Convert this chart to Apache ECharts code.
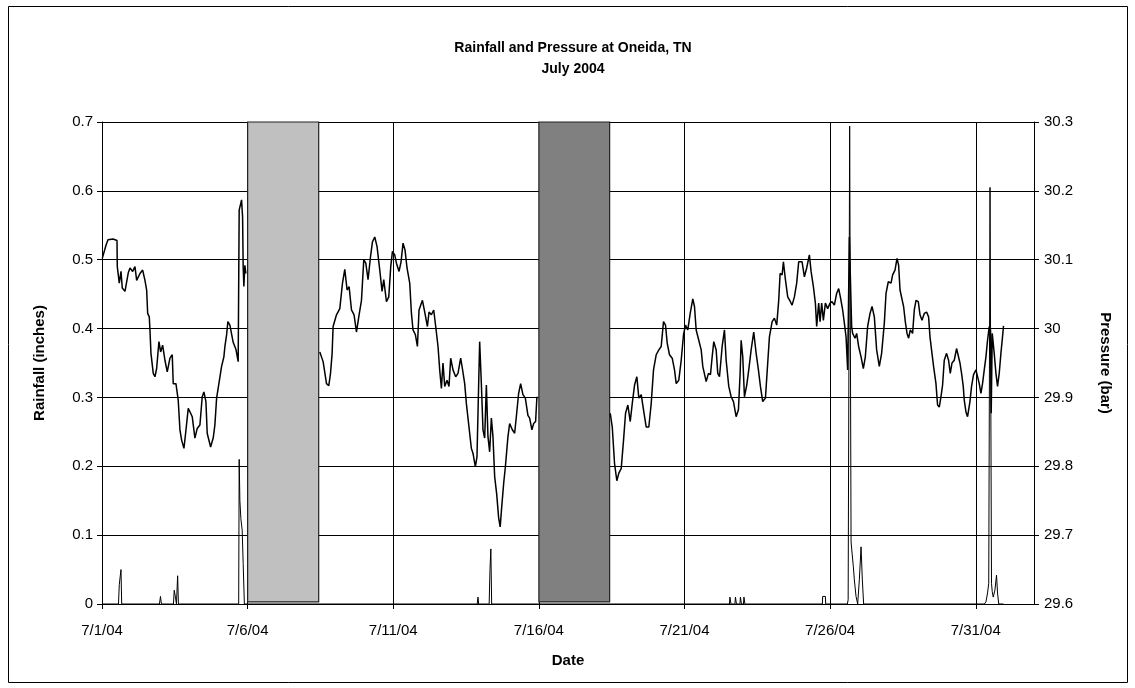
<!DOCTYPE html>
<html>
<head>
<meta charset="utf-8">
<title>Rainfall and Pressure at Oneida, TN</title>
<script src="https://cdn.jsdelivr.net/npm/echarts@6/dist/echarts.min.js"></script>
<style>
  html, body { margin: 0; padding: 0; background: #fff; }
  #chart { width: 1135px; height: 688px; }
</style>
</head>
<body>
<div id="chart"></div>
<script>
// Time is counted in days from 7/1/04 00:00.
const dayTicks = [0, 5, 10, 15, 20, 25, 30];
const tickLabels = ['7/1/04', '7/6/04', '7/11/04', '7/16/04', '7/21/04', '7/26/04', '7/31/04'];

// Barometric pressure (bar); null marks a break in the record.
const pressureDays = [
  0.010, 0.137, 0.206, 0.377, 0.515, 0.525, 0.593, 0.652, 0.696, 0.789, 0.902, 0.961, 1.053, 1.132, 1.190,
  1.304, 1.396, 1.475, 1.533, 1.568, 1.623, 1.647, 1.681, 1.760, 1.818, 1.876, 1.955, 2.014, 2.082, 2.161,
  2.240, 2.333, 2.412, 2.446, 2.539, 2.617, 2.676, 2.734, 2.813, 2.871, 2.961, 3.043, 3.098, 3.190, 3.269,
  3.362, 3.441, 3.499, 3.568, 3.612, 3.729, 3.818, 3.876, 3.935, 4.024, 4.106, 4.185, 4.220, 4.278, 4.322,
  4.391, 4.504, 4.597, 4.676, 4.710, 4.792, 4.827, 4.847, 4.871, 4.906, 4.940,
  6.0,
  7.478, 7.592, 7.708, 7.787, 7.846, 7.901, 7.935, 8.051, 8.165, 8.257, 8.336, 8.415, 8.484, 8.566, 8.655,
  8.737, 8.827, 8.909, 8.988, 9.057, 9.135, 9.218, 9.286, 9.365, 9.444, 9.537, 9.616, 9.674, 9.767, 9.846,
  9.914, 9.972, 10.051, 10.110, 10.199, 10.268, 10.336, 10.405, 10.473, 10.566, 10.624, 10.679, 10.761, 10.830, 10.885,
  11.002, 11.081, 11.173, 11.228, 11.310, 11.389, 11.458, 11.537, 11.595, 11.653, 11.708, 11.767, 11.846, 11.914, 11.972,
  12.051, 12.144, 12.223, 12.315, 12.374, 12.453, 12.511, 12.600, 12.682, 12.737, 12.820, 12.875, 12.933, 12.967, 13.025,
  13.081, 13.139, 13.197, 13.252, 13.310, 13.369, 13.424, 13.482, 13.551, 13.619, 13.671, 13.722, 13.791, 13.849, 13.938,
  13.997, 14.089, 14.168, 14.226, 14.305, 14.374, 14.453, 14.535, 14.624, 14.683, 14.761, 14.820, 14.888, 14.933,
  16.0,
  17.451, 17.520, 17.598, 17.677, 17.746, 17.828, 17.907, 17.976, 18.055, 18.137, 18.206, 18.285, 18.364, 18.432, 18.514,
  18.593, 18.686, 18.775, 18.857, 18.936, 19.029, 19.118, 19.200, 19.279, 19.348, 19.406, 19.485, 19.578, 19.657, 19.715,
  19.804, 19.887, 19.966, 20.034, 20.113, 20.196, 20.285, 20.343, 20.401, 20.490, 20.573, 20.628, 20.744, 20.823, 20.892,
  20.950, 21.005, 21.087, 21.142, 21.201, 21.293, 21.372, 21.430, 21.520, 21.602, 21.681, 21.773, 21.852, 21.910, 21.945,
  22.000, 22.058, 22.137, 22.206, 22.288, 22.377, 22.460, 22.538, 22.607, 22.686, 22.779, 22.857, 22.916, 23.009, 23.087,
  23.166, 23.235, 23.283, 23.352, 23.396, 23.465, 23.544, 23.636, 23.694, 23.773, 23.852, 23.921, 24.037, 24.117, 24.195,
  24.288, 24.346, 24.425, 24.494, 24.538, 24.607, 24.655, 24.710, 24.768, 24.837, 24.916, 24.998, 25.067, 25.146, 25.224,
  25.293, 25.351, 25.430, 25.489, 25.547, 25.602, 25.660, 25.739, 25.773, 25.856, 25.911, 25.979, 26.062, 26.140, 26.209,
  26.288, 26.370, 26.439, 26.518, 26.597, 26.689, 26.768, 26.861, 26.919, 26.998, 27.091, 27.146, 27.228, 27.297, 27.352,
  27.400, 27.468, 27.523, 27.581, 27.640, 27.695, 27.753, 27.832, 27.890, 27.949, 28.027, 28.086, 28.154, 28.233, 28.312,
  28.381, 28.429, 28.497, 28.552, 28.634, 28.689, 28.748, 28.806, 28.861, 28.919, 28.998, 29.067, 29.125, 29.184, 29.262,
  29.341, 29.399, 29.458, 29.513, 29.571, 29.605, 29.664, 29.719, 29.801, 29.856, 29.924, 30.007, 30.062, 30.120, 30.178,
  30.233, 30.292, 30.350, 30.405, 30.463, 30.507, 30.531, 30.566, 30.634, 30.693, 30.748, 30.806, 30.864, 30.919, 30.953
];
const pressureBar = [
  30.102, 30.121, 30.129, 30.130, 30.128, 30.090, 30.066, 30.083, 30.059, 30.054, 30.081, 30.088, 30.083, 30.090, 30.070,
  30.080, 30.085, 30.070, 30.056, 30.022, 30.017, 29.998, 29.964, 29.935, 29.930, 29.942, 29.981, 29.966, 29.976, 29.954,
  29.937, 29.957, 29.962, 29.920, 29.920, 29.896, 29.853, 29.838, 29.826, 29.848, 29.884, 29.877, 29.872, 29.841, 29.855,
  29.860, 29.901, 29.908, 29.894, 29.848, 29.828, 29.841, 29.860, 29.899, 29.923, 29.945, 29.959, 29.974, 29.991, 30.010,
  30.005, 29.980, 29.970, 29.952, 30.172, 30.187, 30.162, 30.090, 30.061, 30.092, 30.080,
  null,
  29.966, 29.952, 29.920, 29.917, 29.935, 29.964, 30.003, 30.020, 30.029, 30.066, 30.086, 30.056, 30.061, 30.027, 30.020,
  29.995, 30.020, 30.041, 30.100, 30.095, 30.071, 30.104, 30.126, 30.133, 30.119, 30.085, 30.054, 30.071, 30.039, 30.046,
  30.090, 30.112, 30.107, 30.095, 30.083, 30.097, 30.124, 30.114, 30.088, 30.066, 30.022, 29.998, 29.991, 29.974, 30.027,
  30.041, 30.024, 30.003, 30.024, 30.020, 30.027, 30.003, 29.974, 29.940, 29.913, 29.950, 29.916, 29.925, 29.916, 29.957,
  29.940, 29.930, 29.935, 29.957, 29.942, 29.920, 29.891, 29.857, 29.826, 29.819, 29.799, 29.814, 29.920, 29.981, 29.920,
  29.853, 29.841, 29.918, 29.843, 29.821, 29.870, 29.843, 29.785, 29.760, 29.725, 29.712, 29.740, 29.775, 29.799, 29.843,
  29.862, 29.853, 29.848, 29.872, 29.906, 29.920, 29.904, 29.899, 29.874, 29.870, 29.853, 29.862, 29.865, 29.901,
  null,
  29.877, 29.857, 29.804, 29.779, 29.790, 29.797, 29.838, 29.877, 29.889, 29.865, 29.891, 29.918, 29.930, 29.899, 29.904,
  29.882, 29.857, 29.857, 29.891, 29.940, 29.962, 29.969, 29.974, 30.010, 30.005, 29.979, 29.962, 29.957, 29.940, 29.920,
  29.925, 29.954, 29.991, 30.005, 29.998, 30.022, 30.043, 30.032, 29.998, 29.983, 29.969, 29.945, 29.923, 29.935, 29.933,
  29.959, 29.981, 29.969, 29.935, 29.930, 29.974, 29.998, 29.954, 29.916, 29.901, 29.894, 29.872, 29.882, 29.935, 29.983,
  29.959, 29.901, 29.918, 29.940, 29.969, 29.995, 29.964, 29.940, 29.916, 29.894, 29.899, 29.950, 29.988, 30.010, 30.015,
  30.005, 30.041, 30.080, 30.078, 30.097, 30.071, 30.046, 30.039, 30.034, 30.046, 30.066, 30.097, 30.097, 30.075, 30.088,
  30.107, 30.083, 30.061, 30.037, 30.003, 30.037, 30.010, 30.037, 30.012, 30.037, 30.029, 30.037, 30.039, 30.034, 30.051,
  30.058, 30.046, 30.027, 30.008, 29.988, 29.940, 30.133, 30.003, 29.993, 29.986, 29.993, 29.974, 29.959, 29.942, 29.959,
  30.003, 30.022, 30.032, 30.017, 29.969, 29.945, 29.964, 30.008, 30.051, 30.068, 30.066, 30.078, 30.085, 30.102, 30.092,
  30.056, 30.054, 30.032, 30.010, 29.993, 29.986, 29.998, 29.993, 30.027, 30.041, 30.039, 30.020, 30.012, 30.022, 30.024,
  30.017, 29.988, 29.964, 29.945, 29.920, 29.889, 29.886, 29.901, 29.918, 29.954, 29.964, 29.954, 29.935, 29.950, 29.954,
  29.971, 29.969, 29.950, 29.935, 29.916, 29.896, 29.879, 29.872, 29.894, 29.916, 29.933, 29.940, 29.942, 29.920, 29.906,
  29.920, 29.940, 29.959, 29.983, 30.003, 29.998, 29.877, 29.993, 29.964, 29.935, 29.916, 29.935, 29.964, 29.988, 30.004
];

// Rainfall (inches)
const rainDays = [
  0, 0.566, 0.593, 0.617, 0.652, 0.676,
  1.973, 2.007, 2.041,
  2.453, 2.480, 2.521, 2.556, 2.597, 2.624,
  4.693, 4.710, 4.734, 4.768, 4.813, 4.847, 4.888,
  12.882, 12.909, 12.933,
  13.293, 13.321, 13.351, 13.379,
  21.543, 21.560, 21.595,
  21.732, 21.749, 21.783,
  21.903, 21.921, 21.955,
  22.024, 22.041, 22.075,
  24.734, 24.744, 24.837, 24.848,
  25.592, 25.619, 25.671, 25.719, 25.753, 25.798, 25.832, 25.890, 25.946, 26.003, 26.062, 26.106, 26.151,
  30.292, 30.350, 30.405, 30.446, 30.490, 30.541, 30.566, 30.600, 30.658, 30.713, 30.748, 30.789, 30.953
];
const rainInches = [
  0, 0, 0.028, 0.030, 0.050, 0,
  0, 0.011, 0,
  0, 0.020, 0.010, 0, 0.041, 0,
  0, 0.210, 0.150, 0.124, 0.107, 0.059, 0,
  0, 0.010, 0,
  0, 0.050, 0.080, 0,
  0, 0.010, 0,
  0, 0.010, 0,
  0, 0.010, 0,
  0, 0.010, 0,
  0, 0.011, 0.011, 0,
  0, 0.006, 0.694, 0.090, 0.074, 0.054, 0.035, 0.011, 0, 0.035, 0.083, 0.035, 0,
  0, 0.003, 0.016, 0.030, 0.605, 0.030, 0.018, 0.010, 0.020, 0.042, 0.016, 0, 0
];

// Shaded periods (days from 7/1/04)
const shadeStart = [5.0, 15.0];
const shadeEnd = [7.44, 17.43];
const shadeColor = ['#C0C0C0', '#808080'];

const FONT = '"Liberation Sans", Arial, sans-serif';

const pressureData = pressureDays.map((d, i) => [d, pressureBar[i]]);
const rainData = rainDays.map((d, i) => [d, rainInches[i]]);
const shadeAreas = shadeStart.map((s, i) => [
  { xAxis: s, yAxis: 0.003, itemStyle: { color: shadeColor[i] } },
  { xAxis: shadeEnd[i], yAxis: 0.7 }
]);

const axisNameStyle = { fontFamily: FONT, fontSize: 15, fontWeight: 'bold', color: '#000' };
const tickFont = { fontFamily: FONT, fontSize: 15, color: '#000' };

const chart = echarts.init(document.getElementById('chart'), null, { renderer: 'canvas' });

chart.setOption({
  animation: false,
  backgroundColor: '#fff',
  textStyle: { fontFamily: FONT },
  graphic: [{
    type: 'rect',
    shape: { x: 8.5, y: 6.5, width: 1119, height: 676 },
    style: { fill: 'none', stroke: '#000', lineWidth: 1 },
    silent: true,
    z: 100
  }],
  title: {
    text: 'Rainfall and Pressure at Oneida, TN\nJuly 2004',
    left: 568,
    top: 33,
    textAlign: 'center',
    textStyle: { fontFamily: FONT, fontSize: 14, fontWeight: 'bold', color: '#000', lineHeight: 21 }
  },
  grid: { left: 102, right: 101, top: 122, bottom: 84 },
  xAxis: {
    type: 'value',
    min: 0,
    max: 32,
    interval: 5,
    name: 'Date',
    nameLocation: 'middle',
    nameGap: 49,
    nameTextStyle: axisNameStyle,
    axisLine: { show: true, onZero: false, lineStyle: { color: '#000', width: 1 } },
    axisTick: { show: true, inside: false, length: 5, lineStyle: { color: '#000' } },
    axisLabel: Object.assign({
      show: true, margin: 19, showMaxLabel: false,
      formatter: v => { const k = dayTicks.indexOf(v); return k >= 0 ? tickLabels[k] : ''; }
    }, tickFont),
    splitLine: { show: true, lineStyle: { color: '#000', width: 1 } }
  },
  yAxis: [{
    type: 'value',
    position: 'left',
    min: 0,
    max: 0.7,
    interval: 0.1,
    name: 'Rainfall (inches)',
    nameLocation: 'middle',
    nameGap: 55,
    nameRotate: 90,
    nameTextStyle: axisNameStyle,
    axisLine: { show: true, lineStyle: { color: '#000', width: 1 } },
    axisTick: { show: true, inside: false, length: 5, lineStyle: { color: '#000' } },
    axisLabel: Object.assign({ margin: 9 }, tickFont),
    splitLine: { show: true, lineStyle: { color: '#000', width: 1 } }
  }, {
    type: 'value',
    position: 'right',
    min: 29.6,
    max: 30.3,
    interval: 0.1,
    name: 'Pressure (bar)',
    nameLocation: 'middle',
    nameGap: 64,
    nameRotate: -90,
    nameTextStyle: axisNameStyle,
    axisLine: { show: true, lineStyle: { color: '#000', width: 1 } },
    axisTick: { show: true, inside: false, length: 5, lineStyle: { color: '#000' } },
    axisLabel: Object.assign({
      margin: 10,
      formatter: v => String(Math.round(v * 10) / 10)
    }, tickFont),
    splitLine: { show: false }
  }],
  series: [{
    name: 'Rainfall',
    type: 'line',
    yAxisIndex: 0,
    data: rainData,
    showSymbol: false,
    symbol: 'none',
    lineStyle: { color: '#000', width: 1 },
    z: 3,
    markArea: {
      silent: true,
      itemStyle: { borderColor: '#222', borderWidth: 1.2 },
      data: shadeAreas
    }
  }, {
    name: 'Pressure',
    type: 'line',
    yAxisIndex: 1,
    data: pressureData,
    showSymbol: false,
    symbol: 'none',
    connectNulls: false,
    lineStyle: { color: '#000', width: 1.5 },
    z: 4
  }]
});
</script>
</body>
</html>
